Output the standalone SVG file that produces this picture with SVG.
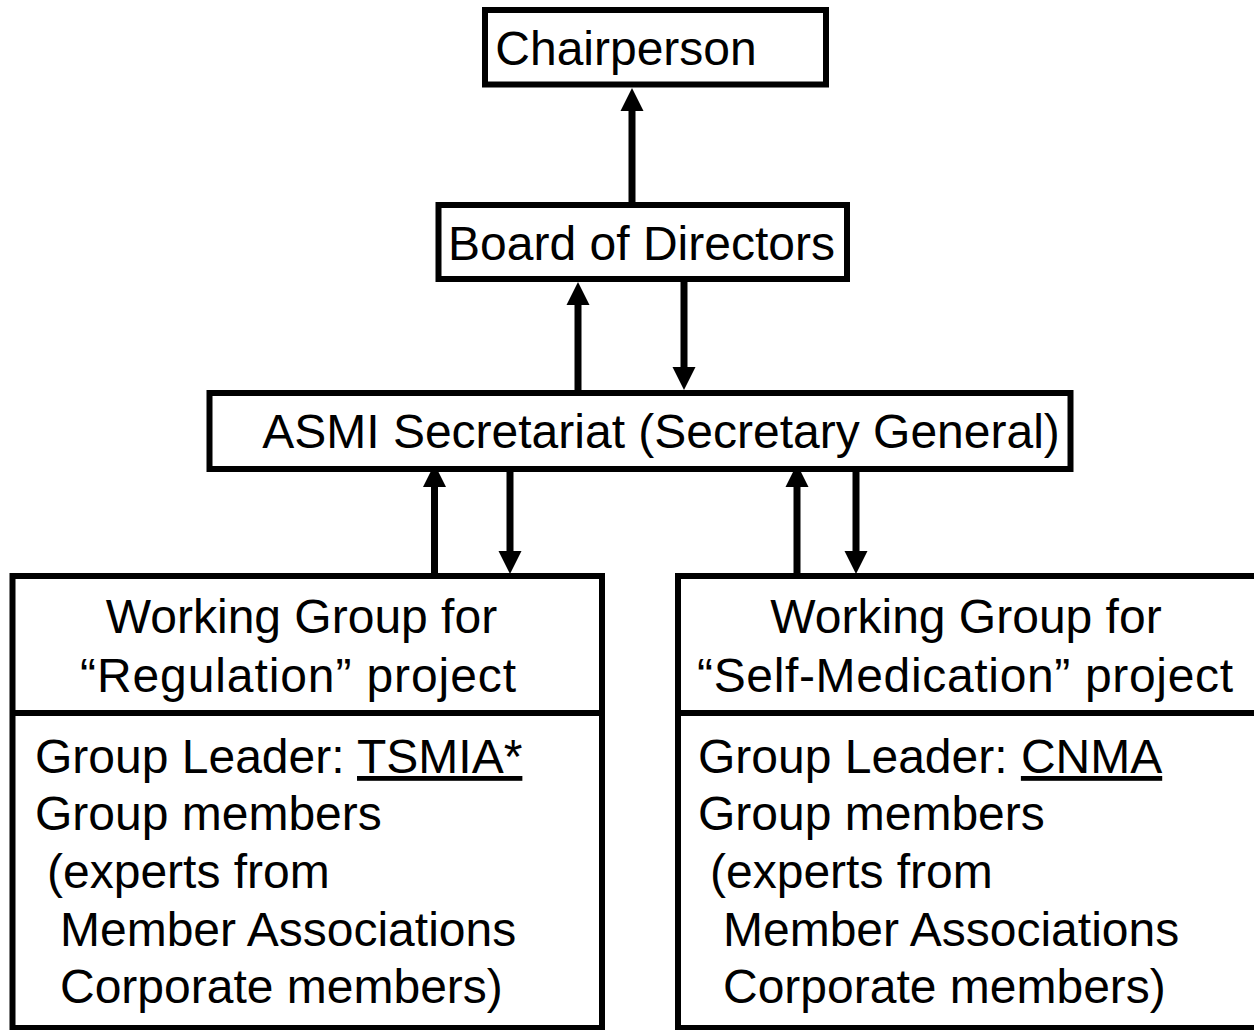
<svg xmlns="http://www.w3.org/2000/svg" width="1254" height="1030" viewBox="0 0 1254 1030">
  <style>
    .box { fill: #ffffff; stroke: #000000; stroke-width: 6; }
    .sep { stroke: #000000; stroke-width: 6; }
    .lbl { font-family: "Liberation Sans", Arial, sans-serif; font-size: 48px; fill: #000000; }
    .mid { text-anchor: middle; }
    .link { stroke: #000000; stroke-width: 7; fill: none; marker-end: url(#head); }
    .ul { text-decoration: underline; }
  </style>
  <defs>
    <marker id="head" markerUnits="userSpaceOnUse" markerWidth="24" markerHeight="24" refX="0" refY="11.5" orient="auto" overflow="visible">
      <path d="M0,0 L23,11.5 L0,23 Z" fill="#000000"/>
    </marker>
  </defs>

  <rect x="0" y="0" width="1254" height="1030" fill="#ffffff"/>

  <!-- connectors -->
  <g id="connectors">
    <line class="link" x1="632" y1="202" x2="632" y2="111"/>
    <line class="link" x1="578" y1="390" x2="578" y2="305"/>
    <line class="link" x1="684" y1="282" x2="684" y2="367"/>
    <line class="link" x1="434.5" y1="576" x2="434.5" y2="487"/>
    <line class="link" x1="510" y1="466" x2="510" y2="551"/>
    <line class="link" x1="797" y1="576" x2="797" y2="487"/>
    <line class="link" x1="856" y1="466" x2="856" y2="551"/>
  </g>

  <g id="chairperson">
    <rect class="box" x="485" y="10" width="341" height="74.5"/>
    <text class="lbl mid" x="626" y="65">Chairperson</text>
  </g>

  <g id="board">
    <rect class="box" x="438.5" y="205" width="408.5" height="74"/>
    <text class="lbl mid" x="641.5" y="260">Board of Directors</text>
  </g>

  <g id="secretariat">
    <rect class="box" x="209.5" y="393" width="861" height="76"/>
    <text class="lbl mid" x="661" y="448">ASMI Secretariat (Secretary General)</text>
  </g>

  <g id="wg-regulation">
    <rect class="box" x="12.5" y="576" width="589.5" height="452"/>
    <line class="sep" x1="12.5" y1="713" x2="602" y2="713"/>
    <text class="lbl mid" x="301.5" y="633">Working Group for</text>
    <text class="lbl mid" x="298" y="692" textLength="436" lengthAdjust="spacing">“Regulation” project</text>
    <text class="lbl" x="35" y="773">Group Leader: <tspan class="ul">TSMIA*</tspan></text>
    <text class="lbl" x="35" y="830">Group members</text>
    <text class="lbl" x="47" y="888">(experts from</text>
    <text class="lbl" x="60" y="946">Member Associations</text>
    <text class="lbl" x="60" y="1003">Corporate members)</text>
  </g>

  <g id="wg-self-medication">
    <rect class="box" x="678" y="576" width="590" height="452"/>
    <line class="sep" x1="678" y1="713" x2="1268" y2="713"/>
    <text class="lbl mid" x="966" y="633">Working Group for</text>
    <text class="lbl mid" x="965" y="692" textLength="536" lengthAdjust="spacing">“Self-Medication” project</text>
    <text class="lbl" x="698" y="773">Group Leader: <tspan class="ul">CNMA</tspan></text>
    <text class="lbl" x="698" y="830">Group members</text>
    <text class="lbl" x="710" y="888">(experts from</text>
    <text class="lbl" x="723" y="946">Member Associations</text>
    <text class="lbl" x="723" y="1003">Corporate members)</text>
  </g>
</svg>
